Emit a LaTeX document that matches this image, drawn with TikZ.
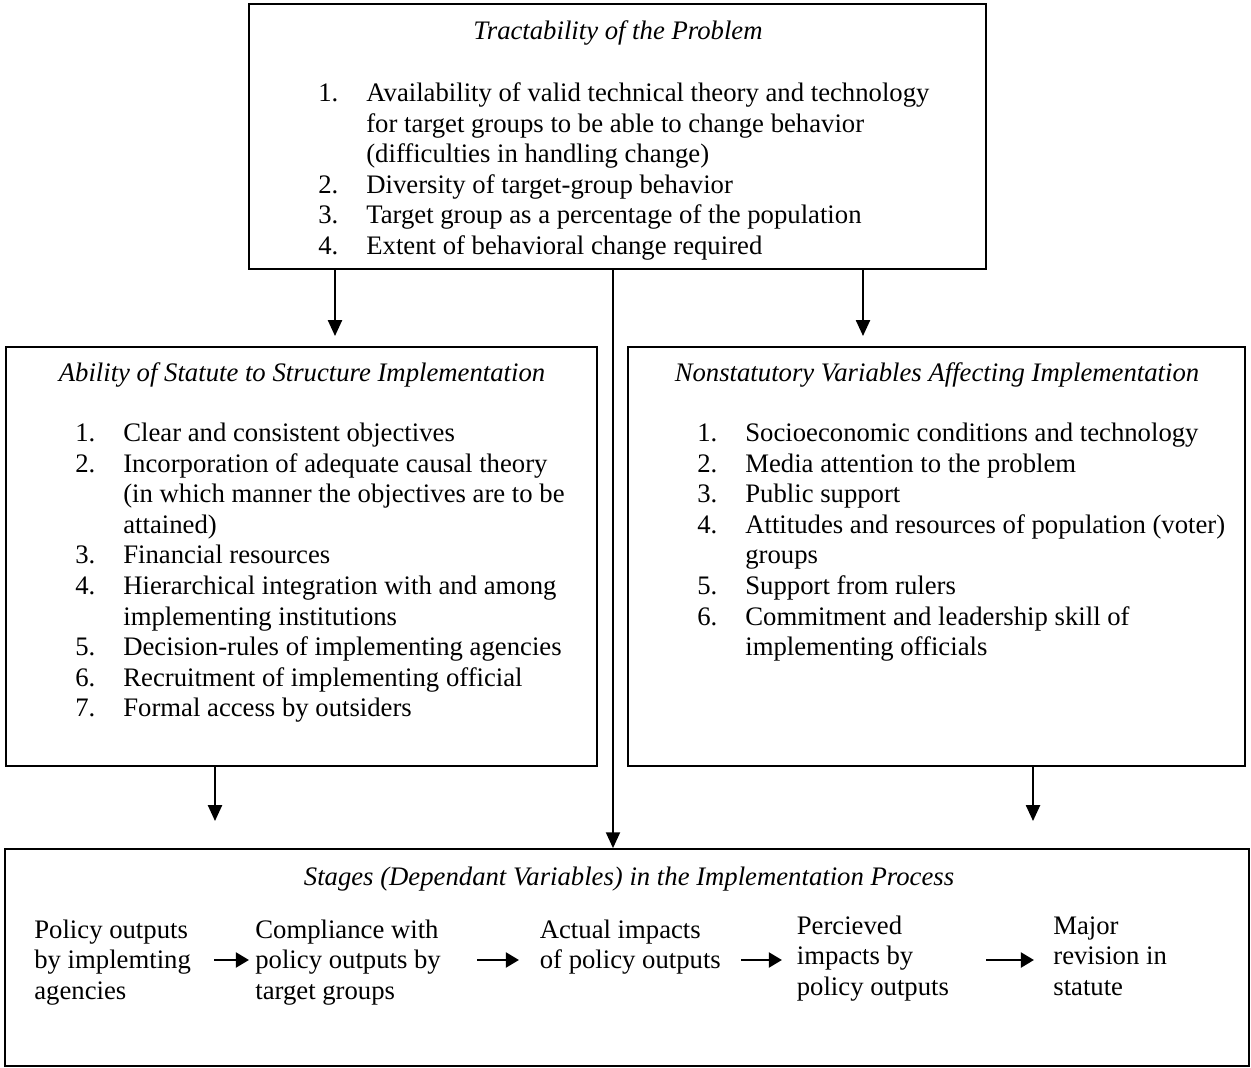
\documentclass[tikz,border=0pt]{standalone}
\usepackage{fontspec}
\setmainfont{Liberation Serif}
\usetikzlibrary{arrows.meta, positioning, fit}
\newcommand{\itemrows}[1]{\begin{tabular}[t]{@{}p{0.96cm}@{}l@{}}#1\end{tabular}}
\newcommand{\stagelines}[1]{\begin{tabular}[t]{@{}l@{}}#1\end{tabular}}

\begin{document}
\begin{tikzpicture}[
    x=0.02cm, y=-0.02cm,
    panel/.style={draw, line width=1pt, inner sep=0pt},
    txt/.style={inner sep=0pt, font=\fontsize{15.2}{17.4}\selectfont},
    head/.style={txt, anchor=base, font=\fontsize{15.2}{17.4}\selectfont\itshape},
    items/.style={txt, anchor=base west},
    arr/.style={-{Triangle[width=8pt,length=9pt]}, line width=1pt},
    flow/.style={-{Triangle[width=8.5pt,length=7.5pt]}, line width=1.5pt},
]
\useasboundingbox (0,0) rectangle (1251,1068);

% boxes
\node[panel, fit={(249,4) (986,269)}] (tract) {};
\node[panel, fit={(6,347) (597,766)}] (statute) {};
\node[panel, fit={(628,347) (1245,766)}] (nonstat) {};
\node[panel, fit={(5,849) (1249,1066)}] (stages) {};

% titles
\node[head] (tracthead) at (618,40) {Tractability of the Problem};
\node[head] (statutehead) at (302,381.7) {Ability of Statute to Structure Implementation};
\node[head] (nonstathead) at (937,381.7) {Nonstatutory Variables Affecting Implementation};
\node[head] (stageshead) at (629,885) {Stages (Dependant Variables) in the Implementation Process};

% lists
\node[items] (tractlist) at (318,101.7) {\itemrows{
    1. & Availability of valid technical theory and technology\\
       & for target groups to be able to change behavior\\
       & (difficulties in handling change)\\
    2. & Diversity of target-group behavior\\
    3. & Target group as a percentage of the population\\
    4. & Extent of behavioral change required}};
\node[items] (statutelist) at (75,441.7) {\itemrows{
    1. & Clear and consistent objectives\\
    2. & Incorporation of adequate causal theory\\
       & (in which manner the objectives are to be\\
       & attained)\\
    3. & Financial resources\\
    4. & Hierarchical integration with and among\\
       & implementing institutions\\
    5. & Decision-rules of implementing agencies\\
    6. & Recruitment of implementing official\\
    7. & Formal access by outsiders}};
\node[items] (nonstatlist) at (697,441.7) {\itemrows{
    1. & Socioeconomic conditions and technology\\
    2. & Media attention to the problem\\
    3. & Public support\\
    4. & Attitudes and resources of population (voter)\\
       & groups\\
    5. & Support from rulers\\
    6. & Commitment and leadership skill of\\
       & implementing officials}};

% stages
\node[items] (output) at (34,938) {\stagelines{Policy outputs\\by implemting\\agencies}};
\node[items] (comply) at (255,938) {\stagelines{Compliance with\\policy outputs by\\target groups}};
\node[items] (actual) at (539.5,938) {\stagelines{Actual impacts\\of policy outputs}};
\node[items] (percieve) at (796.5,934) {\stagelines{Percieved\\impacts by\\policy outputs}};
\node[items] (revise) at (1053,934) {\stagelines{Major\\revision in\\statute}};

% connectors
\coordinate (tipL) at (335,336);
\coordinate (tipR) at (863,336);
\coordinate (midline) at (613,0);
\coordinate (tipA) at (215,821);
\coordinate (tipB) at (1033,821);
\draw[arr] (tract.south -| tipL) -- (tipL);
\draw[arr] (tract.south -| tipR) -- (tipR);
\draw[arr] (tract.south -| midline) -- (stages.north -| midline);
\draw[arr] (statute.south -| tipA) -- (tipA);
\draw[arr] (nonstat.south -| tipB) -- (tipB);

\coordinate (f1) at (214,960);  \coordinate (t1) at (249,960);
\coordinate (f2) at (477,960);  \coordinate (t2) at (519,960);
\coordinate (f3) at (741,960);  \coordinate (t3) at (782,960);
\coordinate (f4) at (986,960);  \coordinate (t4) at (1034,960);
\draw[flow] (f1) -- (t1);
\draw[flow] (f2) -- (t2);
\draw[flow] (f3) -- (t3);
\draw[flow] (f4) -- (t4);
\end{tikzpicture}
\end{document}
